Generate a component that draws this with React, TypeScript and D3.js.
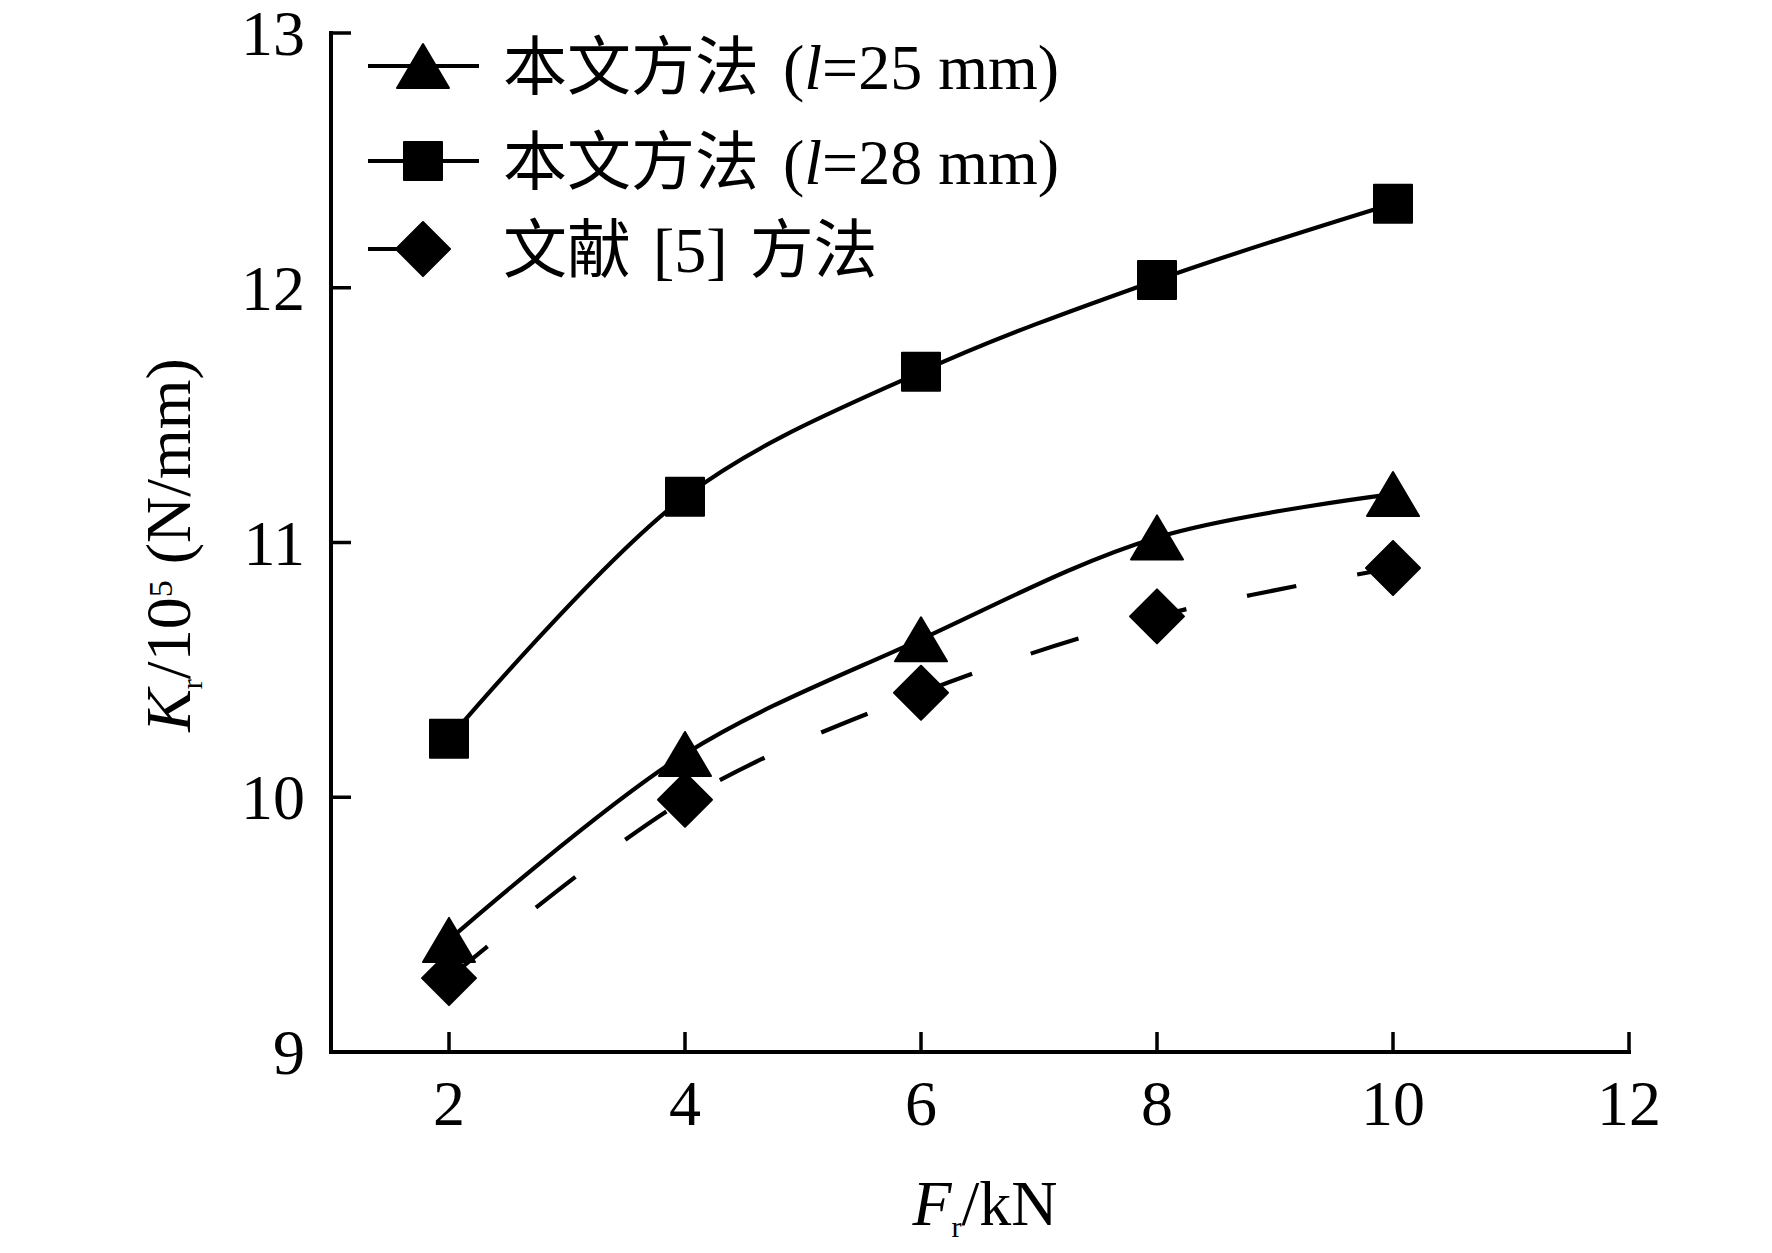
import React, { useEffect } from "react";
import * as d3 from "d3";

const forces = [2, 4, 6, 8, 10];
const kL25 = [9.44, 10.17, 10.62, 11.02, 11.19];
const kL28 = [10.23, 11.18, 11.67, 12.03, 12.33];
const kRef5 = [9.29, 9.99, 10.41, 10.71, 10.9];
const xTicks = [2, 4, 6, 8, 10, 12];
const yTicks = [9, 10, 11, 12, 13];

const W = 1772;
const H = 1253;
const LATIN = "'Liberation Serif', 'Times New Roman', serif";
const CJK = "'Noto Sans CJK SC', sans-serif";

const x = d3.scaleLinear().domain([1, 12]).range([331, 1629]);
const y = d3.scaleLinear().domain([9, 13]).range([1052, 33]);

const line = d3
  .line<[number, number]>()
  .x((d) => x(d[0]))
  .y((d) => y(d[1]))
  .curve(d3.curveCatmullRom.alpha(0.5));

function triPath(cx: number, cy: number) {
  return `M${cx},${cy - 22}L${cx + 26},${cy + 22}L${cx - 26},${cy + 22}Z`;
}
function sqPath(cx: number, cy: number) {
  return `M${cx - 19},${cy - 19}H${cx + 19}V${cy + 19}H${cx - 19}Z`;
}
function diaPath(cx: number, cy: number) {
  return `M${cx},${cy - 27}L${cx + 27},${cy}L${cx},${cy + 27}L${cx - 27},${cy}Z`;
}

type Series = {
  values: number[];
  marker: (cx: number, cy: number) => string;
  dash?: string;
};

const series: Series[] = [
  { values: kL25, marker: triPath },
  { values: kL28, marker: sqPath },
  { values: kRef5, marker: diaPath, dash: "50 62" },
];

export default function App() {
  useEffect(() => {
    document.body.style.margin = "0";
  }, []);

  const legendRows = [
    { cy: 66, marker: triPath, dash: undefined as string | undefined },
    { cy: 161, marker: sqPath, dash: undefined as string | undefined },
    { cy: 249, marker: diaPath, dash: "50 62" },
  ];

  return (
    <svg width={W} height={H} style={{ display: "block", background: "#fff" }}>
      {/* axes */}
      <line x1={x(1)} x2={x(12)} y1={y(9)} y2={y(9)} stroke="#000" strokeWidth={4} strokeLinecap="square" />
      <line x1={x(1)} x2={x(1)} y1={y(9)} y2={y(13)} stroke="#000" strokeWidth={4} strokeLinecap="square" />
      {xTicks.map((t) => (
        <g key={"xt" + t}>
          <line x1={x(t)} x2={x(t)} y1={y(9)} y2={y(9) - 20} stroke="#000" strokeWidth={3.5} />
          <text x={x(t)} y={1125} textAnchor="middle" fontFamily={LATIN} fontSize={64}>
            {t}
          </text>
        </g>
      ))}
      {yTicks.map((t) => (
        <g key={"yt" + t}>
          <line x1={x(1)} x2={x(1) + 20} y1={y(t)} y2={y(t)} stroke="#000" strokeWidth={3.5} />
          <text x={305} y={y(t) + 22} textAnchor="end" fontFamily={LATIN} fontSize={64}>
            {t}
          </text>
        </g>
      ))}

      {/* axis labels */}
      <text x={985} y={1225} textAnchor="middle" fontFamily={LATIN} fontSize={64}>
        <tspan fontStyle="italic">F</tspan>
        <tspan fontSize={30} dy={12}>r</tspan>
        <tspan dy={-12}>/kN</tspan>
      </text>
      <text transform="translate(190,545) rotate(-90)" textAnchor="middle" fontFamily={LATIN} fontSize={64}>
        <tspan fontStyle="italic">K</tspan>
        <tspan fontSize={30} dy={12}>r</tspan>
        <tspan dy={-12}>/10</tspan>
        <tspan fontSize={34} dy={-18}>5</tspan>
        <tspan dy={18}> (N/mm)</tspan>
      </text>

      {/* series lines */}
      {series.map((s, i) => (
        <path
          key={"l" + i}
          d={line(forces.map((f, j) => [f, s.values[j]] as [number, number])) || ""}
          fill="none"
          stroke="#000"
          strokeWidth={4.2}
          strokeDasharray={s.dash}
        />
      ))}
      {/* markers */}
      {series.map((s, i) =>
        forces.map((f, j) => (
          <path
            key={"m" + i + "-" + j}
            d={s.marker(x(f), y(s.values[j]))}
            fill="#000"
            stroke="#000"
            strokeWidth={2}
            strokeLinejoin="round"
          />
        ))
      )}

      {/* legend */}
      {legendRows.map((r, i) => (
        <g key={"lg" + i}>
          <line x1={368} x2={479} y1={r.cy} y2={r.cy} stroke="#000" strokeWidth={4.2} strokeDasharray={r.dash} />
          <path d={r.marker(423, r.cy)} fill="#000" stroke="#000" strokeWidth={2} strokeLinejoin="round" />
        </g>
      ))}
      <text x={503} y={66 + 23} fontSize={64} fontFamily={LATIN}>
        <tspan fontFamily={CJK}>本文方法</tspan>
        <tspan dx={24}>(</tspan>
        <tspan fontStyle="italic">l</tspan>
        <tspan>=25 mm)</tspan>
      </text>
      <text x={503} y={161 + 23} fontSize={64} fontFamily={LATIN}>
        <tspan fontFamily={CJK}>本文方法</tspan>
        <tspan dx={24}>(</tspan>
        <tspan fontStyle="italic">l</tspan>
        <tspan>=28 mm)</tspan>
      </text>
      <text x={503} y={249 + 23} fontSize={64} fontFamily={LATIN}>
        <tspan fontFamily={CJK}>文献</tspan>
        <tspan dx={6}> [5] </tspan>
        <tspan fontFamily={CJK} dx={6}>方法</tspan>
      </text>
    </svg>
  );
}
